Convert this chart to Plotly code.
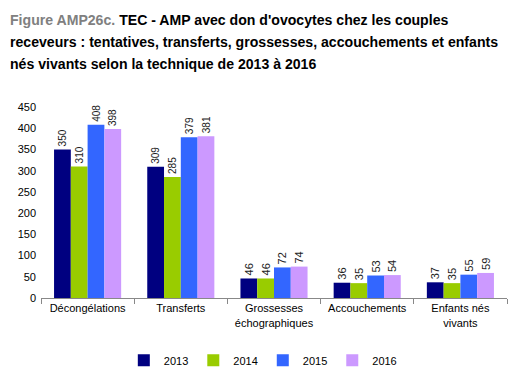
import plotly.graph_objects as go

categories = ["Décongélations", "Transferts", "Grossesses<br>échographiques", "Accouchements", "Enfants nés<br>vivants"]
years = ["2013", "2014", "2015", "2016"]
values_2013 = [350, 309, 46, 36, 37]
values_2014 = [310, 285, 46, 35, 35]
values_2015 = [408, 379, 72, 53, 55]
values_2016 = [398, 381, 74, 54, 59]
colors = ["#000080", "#99CC00", "#3366FF", "#CC99FF"]

title_lines = [
    "<b><span style='color:#808080'>Figure AMP26c.</span> TEC - AMP avec don d'ovocytes chez les couples</b>",
    "<b>receveurs : tentatives, transferts, grossesses, accouchements et enfants</b>",
    "<b>nés vivants selon la technique de 2013 à 2016</b>",
]

series = [values_2013, values_2014, values_2015, values_2016]

fig = go.Figure()
for name, vals, col in zip(years, series, colors):
    fig.add_trace(go.Bar(
        x=categories, y=vals, name=name, marker_color=col, marker_line_width=0,
        text=[str(v) for v in vals], textposition="outside", textangle=-90,
        textfont=dict(family="Liberation Sans, Arial", size=11, color="#222222"),
        cliponaxis=False,
    ))

# plot area: x 41..507, y 107..298 (pixels)
annotations = []
for i, line in enumerate(title_lines):
    ypix = 20 + 22 * i
    annotations.append(dict(
        xref="paper", yref="paper", x=(8 - 41) / 466, y=(298 - ypix) / 191,
        xanchor="left", yanchor="middle", align="left", showarrow=False,
        text=line, font=dict(family="Liberation Sans, Arial", size=14.1, color="#000000"),
    ))

fig.update_layout(
    width=522, height=380,
    margin=dict(l=41, r=15, t=107, b=82, autoexpand=False),
    paper_bgcolor="white", plot_bgcolor="white",
    barmode="group", bargap=0.28, bargroupgap=0,
    font=dict(family="Liberation Sans, Arial", size=11, color="#000000"),
    showlegend=True,
    legend=dict(orientation="h", x=0.476, xanchor="center", y=-0.25, yanchor="top",
                font=dict(size=11), itemwidth=30, traceorder="normal"),
    annotations=annotations,
)
fig.update_xaxes(showline=True, linecolor="#888888", linewidth=1, ticks="outside",
                 tickcolor="#888888", ticklen=5, tickson="boundaries", showgrid=False,
                 tickfont=dict(size=11), automargin=False)
fig.update_yaxes(range=[0, 450], dtick=50, showgrid=False, showline=False, zeroline=False,
                 ticks="", tickfont=dict(size=11), automargin=False, ticklabelstandoff=4)

fig.write_html("out.html", config={"displayModeBar": False},
               post_script="document.body.style.margin='0';document.body.style.overflow='hidden';")
